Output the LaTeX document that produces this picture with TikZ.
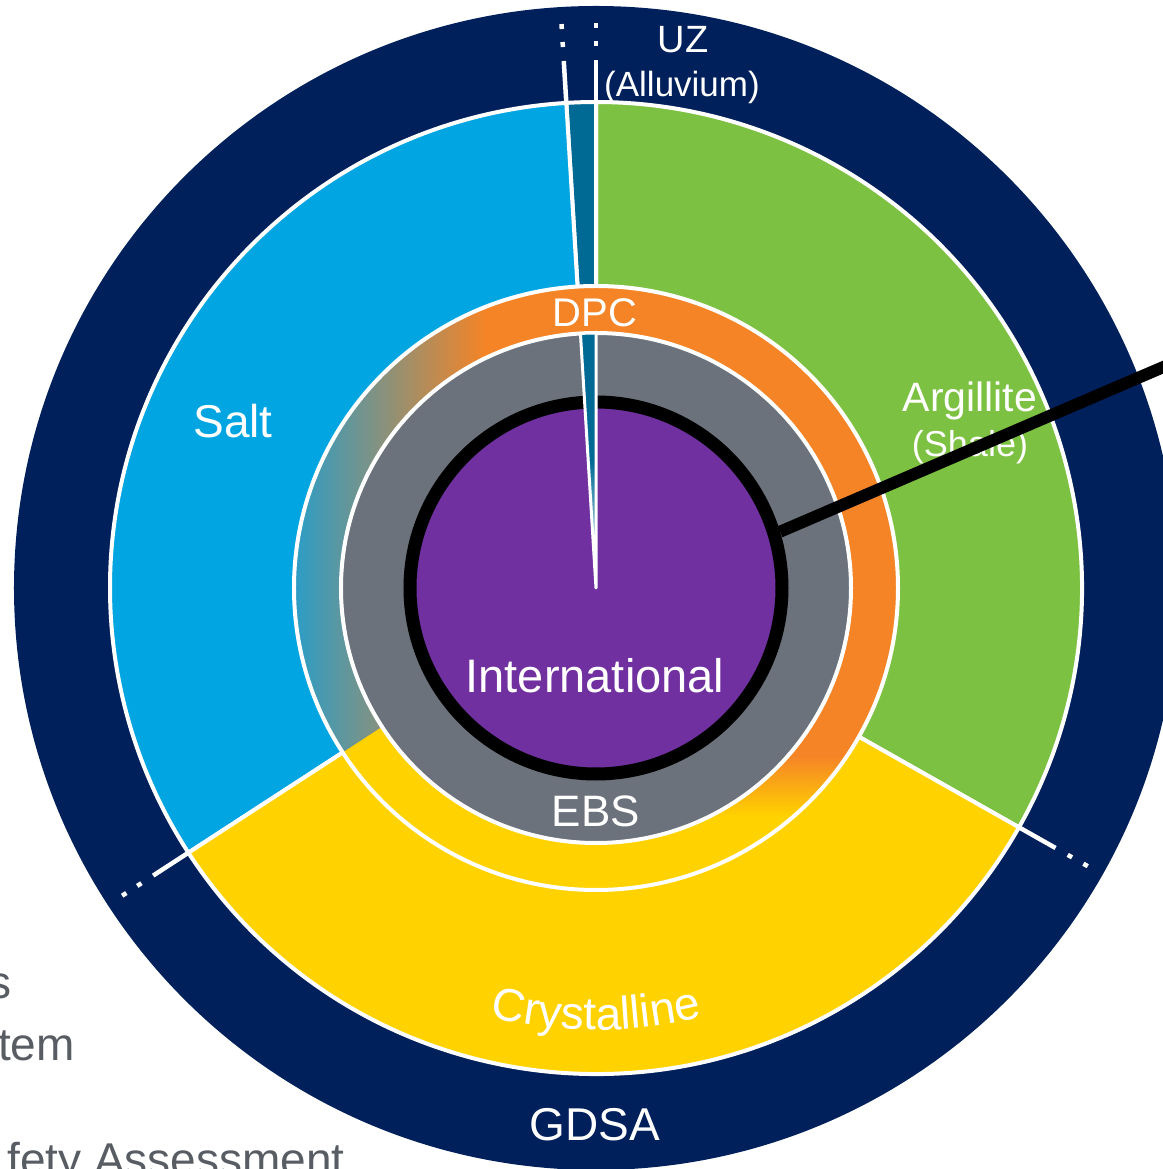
\documentclass[tikz,border=0pt]{standalone}
\usepackage{fontspec}
\setmainfont{Liberation Sans}
\usetikzlibrary{decorations.text}

\definecolor{gdsanavy}{RGB}{0,32,91}
\definecolor{saltblue}{RGB}{0,165,225}
\definecolor{argillitegreen}{RGB}{125,193,67}
\definecolor{crystyellow}{RGB}{255,210,0}
\definecolor{uzteal}{RGB}{0,105,148}
\definecolor{dpcorange}{RGB}{245,132,38}
\definecolor{dpcblue}{RGB}{35,158,205}
\definecolor{ebsgray}{RGB}{107,114,123}
\definecolor{intpurple}{RGB}{112,48,160}
\definecolor{fraggray}{RGB}{88,93,100}

\tikzset{
  hostrock/.style={draw=white, line width=4pt},
  ringtext/.style={text=white, inner sep=0pt, anchor=base},
  dotrule/.style={white, line width=4.5pt, dash pattern=on 42pt off 14pt on 5pt off 13pt on 5pt off 200pt},
  fragtext/.style={text=fraggray, inner sep=0pt, anchor=base east, font=\fontsize{46}{52}\selectfont}
}

\begin{document}
\begin{tikzpicture}[x=1pt,y=1pt]
\newcommand\Rgdsa{582}
\newcommand\Rhost{486}
\newcommand\Rdpc{302}
\newcommand\Rebs{255}

\useasboundingbox (-596,-581) rectangle (566,588);

% GDSA ring
\fill[gdsanavy] (0,0) circle (\Rgdsa);

% host rocks
\filldraw[hostrock, fill=argillitegreen] (0,0) -- (-29.5:\Rhost) arc (-29.5:90:\Rhost) -- cycle;
\filldraw[hostrock, fill=uzteal] (0,0) -- (90:\Rhost) arc (90:93.5:\Rhost) -- cycle;
\filldraw[hostrock, fill=saltblue] (0,0) -- (93.5:\Rhost) arc (93.5:213:\Rhost) -- cycle;
\filldraw[hostrock, fill=crystyellow] (0,0) -- (213:\Rhost) arc (213:330.5:\Rhost) -- cycle;

\foreach \a in {90,93.5,213,330.5}
  \draw[dotrule] (\a:\Rhost) -- (\a:580);

% DPC ring
\fill[dpcorange] (0,0) circle (\Rdpc);
\begin{scope}
\clip (0,0) -- (93.5:\Rdpc) arc (93.5:213:\Rdpc) -- cycle;
\shade[left color=dpcblue, right color=dpcorange] (-310,-310) rectangle (-110,310);
\end{scope}
\begin{scope}
\clip (0,0) -- (213:\Rdpc) arc (213:330.5:\Rdpc) -- cycle;
\fill[crystyellow] (-310,-310) rectangle (0,0);
\fill[crystyellow] (0,-310) rectangle (310,-228);
\shade[top color=dpcorange, bottom color=crystyellow] (0,-228) rectangle (310,-168);
\end{scope}

% EBS
\fill[ebsgray] (0,0) circle (\Rebs);
\draw[white, line width=4pt] (0,0) circle (\Rdpc);
\draw[white, line width=4pt] (0,0) circle (\Rebs);

% International
\node[circle, fill=intpurple, draw=black, line width=13pt, minimum size=372pt, inner sep=0pt] (intlcirc) at (0,0) {};

% UZ wedge
\shadedraw[draw=white, line width=3pt, line join=round, top color=uzteal, bottom color=white, middle color=uzteal]
  (0,0) -- (90:\Rebs) arc (90:93.5:\Rebs) -- cycle;

% labels
\node[ringtext, font=\fontsize{38}{44}\selectfont] (uz) at (87,535) {UZ};
\node[ringtext, font=\fontsize{35}{40}\selectfont] (alluvium) at (86,491) {(Alluvium)};
\node[ringtext, font=\fontsize{46}{52}\selectfont] (salt) at (-363,150) {Salt};
\node[ringtext, font=\fontsize{40}{46}\selectfont] (dpc) at (-1,261) {DPC};
\node[ringtext, font=\fontsize{41}{46}\selectfont] (argillite) at (374,176) {Argillite};
\node[ringtext, font=\fontsize{36}{42}\selectfont] (shale) at (374,131) {(Shale)};
\node[ringtext, font=\fontsize{47}{54}\selectfont] (intl) at (-1,-105) {International};
\node[ringtext, font=\fontsize{44}{50}\selectfont] (ebs) at (0,-238) {EBS};
\node[ringtext, font=\fontsize{46}{52}\selectfont] (gdsa) at (-1,-552) {GDSA};
\path[decorate, decoration={text along path, text align=center, text color=white,
  text={|\fontsize{46}{52}\selectfont|Crystalline}}] (240:442) arc (240:300:442);

\node[fragtext] (frags) at (-584,-410) {s};
\node[fragtext] (fragtem) at (-521,-472) {tem};
\node[fragtext] (fragsafety) at (-251,-587) {fety Assessment};

% lead line
\coordinate (leadend) at (600,235);
\draw[line width=12pt] (intlcirc.17) -- (leadend);

\end{tikzpicture}
\end{document}
